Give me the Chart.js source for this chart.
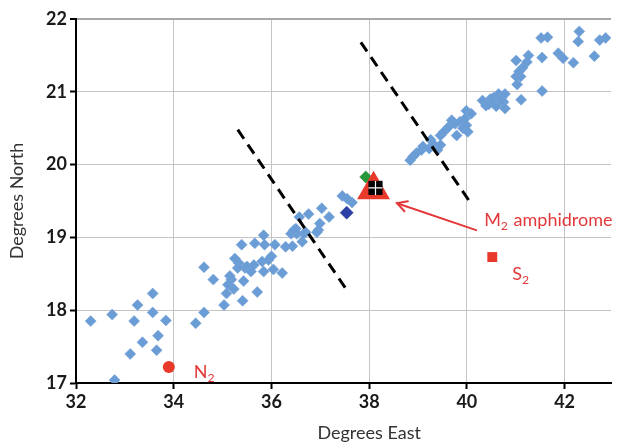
<!DOCTYPE html>
<html>
<head>
<meta charset="utf-8">
<script src="https://cdn.jsdelivr.net/npm/chart.js@4/dist/chart.umd.min.js"></script>
<style>
html,body{margin:0;padding:0;background:#fff;overflow:hidden;}
#wrap{width:630px;height:445px;position:relative;}
</style>
</head>
<body>
<div id="wrap"><canvas id="c" width="630" height="445"></canvas></div>
<script>
// ---- data ----
const stationLon = [32.30,32.74,32.79,33.11,33.19,33.26,33.36,33.57,33.57,33.65,33.68,33.84,34.45,34.62,34.62,34.81,
  35.03,35.08,35.11,35.18,35.23,35.25,35.33,35.39,35.41,35.43,35.46,35.50,35.58,35.66,35.64,35.71,35.81,35.84,35.86,35.84,
  35.94,36.00,36.04,36.07,36.22,36.29,36.43,36.40,36.52,36.57,36.63,36.66,36.76,36.96,36.99,37.03,37.18,36.50,36.70,36.93,
  37.45,37.55,37.65,35.31,35.15,36.46,
  38.84,38.90,38.97,39.07,39.10,39.23,39.26,39.33,39.40,39.46,39.46,39.53,39.63,39.69,39.76,39.79,39.86,39.92,39.99,39.96,
  39.99,40.09,40.02,40.32,40.39,40.48,40.55,40.65,40.71,40.75,40.78,40.45,40.60,40.78,40.71,40.52,
  41.11,41.54,41.03,41.01,41.10,41.14,41.23,41.26,41.01,41.54,41.52,41.65,41.87,41.97,42.18,42.30,42.28,42.61,42.72,42.84,41.07];
const stationLat = [17.85,17.94,17.04,17.40,17.85,18.07,17.56,18.23,17.97,17.45,17.65,17.86,17.82,17.97,18.59,18.42,
  18.07,18.23,18.35,18.42,18.29,18.71,18.65,18.90,18.13,18.40,18.58,18.60,18.53,18.92,18.62,18.25,18.67,19.03,18.90,18.53,
  18.69,18.74,18.56,18.90,18.51,18.87,18.88,19.05,19.05,19.28,18.94,19.05,19.32,19.10,19.19,19.40,19.28,19.12,19.07,19.07,
  19.57,19.53,19.48,18.58,18.47,19.10,
  20.06,20.11,20.16,20.20,20.25,20.22,20.34,20.27,20.20,20.27,20.40,20.45,20.52,20.61,20.56,20.40,20.59,20.50,20.54,20.63,
  20.74,20.70,20.45,20.88,20.81,20.90,20.92,20.97,20.92,20.86,20.77,20.83,20.80,20.97,20.88,20.90,
  20.89,21.01,21.10,21.21,21.21,21.33,21.41,21.50,21.43,21.47,21.74,21.75,21.53,21.46,21.40,21.83,21.69,21.49,21.71,21.74,21.28];

const nodalLine1Lon = [35.31, 37.59];
const nodalLine1Lat = [20.48, 18.23];
const nodalLine2Lon = [37.83, 40.10];
const nodalLine2Lat = [21.68, 19.45];

const darkBlueLon = [37.54];  const darkBlueLat = [19.34];
const greenLon = [37.93];     const greenLat = [19.83];
const m2Lon = [38.09];        const m2Lat = [19.655];
const blackLon = [38.13];     const blackLat = [19.68];
const n2Lon = [33.90];        const n2Lat = [17.22];
const s2Lon = [40.52];        const s2Lat = [18.73];
const arrowLon = [40.19, 38.57];   // tail, head
const arrowLat = [19.10, 19.47];

const xTicks = [32, 34, 36, 38, 40, 42];
const yTicks = [17, 18, 19, 20, 21, 22];
const xAxisFull = [32, 44];   // full extent of the original axis (picture is cropped on the right)

const pts = (xs, ys) => xs.map((x, i) => ({x, y: ys[i]}));

// ---- styles ----
const RED = '#e2383a';
const FONT = 'Lato, "Open Sans", sans-serif';

const annotPlugin = {
  id: 'annot',
  afterDatasetsDraw(chart) {
    const ctx = chart.ctx, xs = chart.scales.x, ys = chart.scales.y;
    const px = v => xs.getPixelForValue(v), py = v => ys.getPixelForValue(v);
    function parts(list, x, y, size) {
      ctx.save();
      ctx.fillStyle = RED;
      ctx.textBaseline = 'alphabetic';
      let cx = x;
      list.forEach(p => {
        const s = p.sub ? size * 0.68 : size;
        ctx.font = s + 'px ' + FONT;
        ctx.fillText(p.t, cx, p.sub ? y + size * 0.22 : y);
        cx += ctx.measureText(p.t).width + (p.sub ? 1 : 0);
      });
      ctx.restore();
    }
    parts([{t:'N'},{t:'2',sub:true}], px(n2Lon[0]) + 25, py(n2Lat[0]) + 11, 18);
    parts([{t:'S'},{t:'2',sub:true}], px(s2Lon[0]) + 20, py(s2Lat[0]) + 23, 18);
    const tx = px(arrowLon[0]), ty = py(arrowLat[0]);
    const hx = px(arrowLon[1]), hy = py(arrowLat[1]);
    ctx.save();
    ctx.strokeStyle = RED; ctx.lineWidth = 2; ctx.lineCap = 'round';
    ctx.beginPath(); ctx.moveTo(tx, ty); ctx.lineTo(hx, hy); ctx.stroke();
    const ang = Math.atan2(ty - hy, tx - hx);
    ctx.beginPath();
    ctx.moveTo(hx + 11 * Math.cos(ang - 0.5), hy + 11 * Math.sin(ang - 0.5));
    ctx.lineTo(hx, hy);
    ctx.lineTo(hx + 11 * Math.cos(ang + 0.5), hy + 11 * Math.sin(ang + 0.5));
    ctx.stroke();
    ctx.restore();
    parts([{t:'M'},{t:'2',sub:true},{t:' amphidrome'}], tx + 8, ty - 4, 18);
  },
  afterDraw(chart) {
    // x-axis title, centred on the full (uncropped) axis extent
    const ctx = chart.ctx, xs = chart.scales.x;
    const cx = (xs.getPixelForValue(xAxisFull[0]) + xs.getPixelForValue(xAxisFull[1])) / 2;
    ctx.save();
    ctx.fillStyle = '#333';
    ctx.font = '18px ' + FONT;
    ctx.textAlign = 'center';
    ctx.textBaseline = 'middle';
    ctx.fillText('Degrees East', cx, xs.bottom - 12);
    ctx.restore();
  }
};

new Chart(document.getElementById('c'), {
  type: 'scatter',
  data: {
    datasets: [
      { label: 'stations', data: pts(stationLon, stationLat), order: 10,
        pointStyle: 'rectRot', pointRadius: 5.5, backgroundColor: 'rgb(106,156,214)',
        borderColor: 'rgb(120,165,215)', borderWidth: 0.6 },
      { label: 'line1', data: pts(nodalLine1Lon, nodalLine1Lat), order: 6, showLine: true,
        borderColor: '#000', borderWidth: 3, borderDash: [11, 7], pointRadius: 0 },
      { label: 'line2', data: pts(nodalLine2Lon, nodalLine2Lat), order: 6, showLine: true,
        borderColor: '#000', borderWidth: 3, borderDash: [11, 7], pointRadius: 0 },
      { label: 'darkblue', data: pts(darkBlueLon, darkBlueLat), order: 5,
        pointStyle: 'rectRot', pointRadius: 6.5, backgroundColor: '#2b3fa6', borderColor: '#23358f', borderWidth: 0.6 },
      { label: 'green', data: pts(greenLon, greenLat), order: 4,
        pointStyle: 'rectRot', pointRadius: 6, backgroundColor: '#24983a', borderColor: '#1d8030', borderWidth: 0.6 },
      { label: 'M2', data: pts(m2Lon, m2Lat), order: 3,
        pointStyle: 'triangle', pointRadius: 19, backgroundColor: '#e8392b', borderColor: '#e8392b', borderWidth: 0 },
      { label: 'black', data: pts(blackLon, blackLat), order: 2,
        pointStyle: 'rect', pointRadius: 10, backgroundColor: '#000', borderColor: '#000', borderWidth: 0 },
      { label: 'cross', data: pts(blackLon, blackLat), order: 1,
        pointStyle: 'cross', pointRadius: 7, backgroundColor: '#fff', borderColor: '#fff', borderWidth: 1.2 },
      { label: 'N2', data: pts(n2Lon, n2Lat), order: 1,
        pointStyle: 'circle', pointRadius: 6, backgroundColor: '#e8392b', borderColor: '#e8392b', borderWidth: 0 },
      { label: 'S2', data: pts(s2Lon, s2Lat), order: 1,
        pointStyle: 'rect', pointRadius: 7, backgroundColor: '#e8392b', borderColor: '#e8392b', borderWidth: 0 }
    ]
  },
  options: {
    responsive: false,
    animation: false,
    devicePixelRatio: 1,
    layout: { padding: { top: 14, right: -8, left: 0, bottom: 0 } },
    plugins: { legend: { display: false }, tooltip: { enabled: false } },
    scales: {
      x: {
        type: 'linear', min: 32, max: 42.95,
        afterBuildTicks: s => { s.ticks = xTicks.map(v => ({value: v})); },
        afterFit: s => { s.height = 62; },
        ticks: { font: { family: FONT, size: 18, weight: 'bold' }, color: '#1a1a1a', padding: 2, maxRotation: 0 },
        grid: { color: '#c4c4c4', lineWidth: 1, tickColor: '#000', tickLength: 6, tickWidth: 2 },
        border: { color: '#000', width: 2 },
        title: { display: false }
      },
      y: {
        type: 'linear', min: 17, max: 22,
        afterBuildTicks: s => { s.ticks = yTicks.map(v => ({value: v})); },
        afterFit: s => { s.width = 76; },
        ticks: { font: { family: FONT, size: 18, weight: 'bold' }, color: '#1a1a1a', padding: 3 },
        grid: {
          color: c => (c.tick && c.tick.value === 22) ? '#a8a8a8' : '#c4c4c4',
          lineWidth: c => (c.tick && c.tick.value === 22) ? 2 : 1,
          tickColor: '#000', tickLength: 6, tickWidth: 2
        },
        border: { color: '#000', width: 2 },
        title: { display: true, text: 'Degrees North', font: { family: FONT, size: 18 }, color: '#333', padding: { top: 6, bottom: 2 } }
      }
    }
  },
  plugins: [annotPlugin]
});
</script>
</body>
</html>
